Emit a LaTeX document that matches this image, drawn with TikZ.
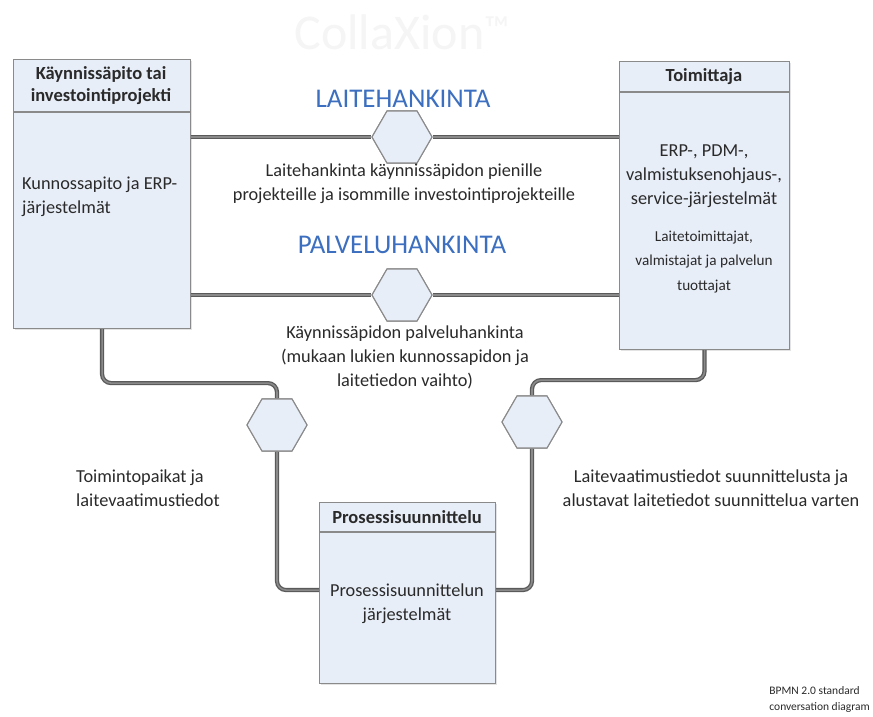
\documentclass[tikz,border=0pt]{standalone}
\usepackage{fontspec}
\setmainfont{Carlito}
\usetikzlibrary{shapes.geometric,calc,shadows}

\definecolor{boxfill}{HTML}{E8EEF8}
\definecolor{boxline}{HTML}{8A8A8A}
\definecolor{linkdark}{HTML}{5A5A5A}
\definecolor{linklight}{HTML}{8A8A8A}
\definecolor{titleblue}{HTML}{3C6FBF}
\definecolor{txt}{HTML}{2A2A2A}

\tikzset{
  participant/.style={draw=boxline, line width=1.1pt, fill=boxfill, inner sep=0pt,
    anchor=north west,
    drop shadow={opacity=0.22, shadow xshift=1.5pt, shadow yshift=-1.5pt}},
  divider/.style={draw=boxline, line width=1.1pt},
  conversation/.style={regular polygon, regular polygon sides=6, minimum size=60pt,
    inner sep=0pt, draw=boxline, line width=1.1pt, fill=boxfill},
  link/.style={draw=linkdark, line width=1.3pt, double=linklight, double distance=1.6pt,
    rounded corners=9pt},
  body/.style={text=txt, font=\fontsize{18.3}{24}\selectfont, inner sep=0pt},
  head/.style={text=txt, font=\bfseries\fontsize{18.5}{22}\selectfont, inner sep=0pt, align=center},
  small/.style={text=txt, font=\fontsize{15.2}{24.5}\selectfont, inner sep=0pt, align=center},
  topic/.style={text=titleblue, font=\fontsize{27}{30}\selectfont, inner sep=0pt}
}

\begin{document}
\begin{tikzpicture}[x=1pt, y=-1pt]
\useasboundingbox (0,0) rectangle (873,717);
\fill[white] (0,0) rectangle (873,717);

% faint product watermark
\node[text=black!4, font=\fontsize{50}{50}\selectfont, inner sep=0pt] (mark) at (402,32) {CollaXion\textsuperscript{™}};

% participants
\node[participant, minimum width=177pt, minimum height=269pt] (L) at (13,59) {};
\node[participant, minimum width=170pt, minimum height=288pt] (R) at (619,61) {};
\node[participant, minimum width=176pt, minimum height=181pt] (B) at (319,502) {};

\draw[divider] ($(L.north west)+(0,53)$) -- ($(L.north east)+(0,53)$);
\draw[divider] ($(R.north west)+(0,31)$) -- ($(R.north east)+(0,31)$);
\draw[divider] ($(B.north west)+(0,30)$) -- ($(B.north east)+(0,30)$);

% conversation nodes
\node[conversation] (cTop) at (402,137) {};
\node[conversation] (cMid) at (402,295) {};
\node[conversation] (cLeft) at (277,425) {};
\node[conversation] (cRight) at (532,422) {};

% conversation links
\draw[link] (cTop.west -| L.east) -- (cTop.west);
\draw[link] (cTop.east) -- (cTop.east -| R.west);
\draw[link] (cMid.west -| L.east) -- (cMid.west);
\draw[link] (cMid.east) -- (cMid.east -| R.west);
\draw[link] (L.south) -- ++(0,54) -| (cLeft.north);
\draw[link] (R.south) -- ++(0,30) -| (cRight.north);
\draw[link] (cLeft.south) |- ($(B.west)+(0,-3)$);
\draw[link] (cRight.south) |- ($(B.east)+(0,-3)$);

% redraw the conversation nodes on top of the links
\node[conversation] at (cTop) {};
\node[conversation] at (cMid) {};
\node[conversation] at (cLeft) {};
\node[conversation] at (cRight) {};

% participant texts
\node[head] (Lh) at (101,86) {Käynnissäpito tai\\investointiprojekti};
\node[body, align=left, anchor=west] (Lb) at (22,197) {Kunnossapito ja ERP-\\järjestelmät};
\node[head] (Rh) at (704,77) {Toimittaja};
\node[body, align=center] (Rb) at (704,176) {ERP-, PDM-,\\valmistuksenohjaus-,\\service-järjestelmät};
\node[small] (Rs) at (704,262) {Laitetoimittajat,\\valmistajat ja palvelun\\tuottajat};
\node[head] (Bh) at (407,517) {Prosessisuunnittelu};
\node[body, align=center] (Bb) at (407,604) {Prosessisuunnittelun\\järjestelmät};

% conversation titles and descriptions
\node[topic] (t1) at (403,99) {LAITEHANKINTA};
\node[body, align=center] (d1) at (404,184) {Laitehankinta käynnissäpidon pienille\\projekteille ja isommille investointiprojekteille};
\node[topic] (t2) at (402,245) {PALVELUHANKINTA};
\node[body, align=center] (d2) at (405,357) {Käynnissäpidon palveluhankinta\\(mukaan lukien kunnossapidon ja\\laitetiedon vaihto)};
\node[body, align=left, anchor=west] (d3) at (76,488) {Toimintopaikat ja\\laitevaatimustiedot};
\node[body, align=center] (d4) at (711,488) {Laitevaatimustiedot suunnittelusta ja\\alustavat laitetiedot suunnittelua varten};

% footnote in the bottom right corner
\node[text=txt, font=\fontsize{11.5}{16}\selectfont, align=left, anchor=north east, inner sep=0pt] (foot) at (870,686) {BPMN 2.0 standard\\conversation diagram};
\end{tikzpicture}
\end{document}
